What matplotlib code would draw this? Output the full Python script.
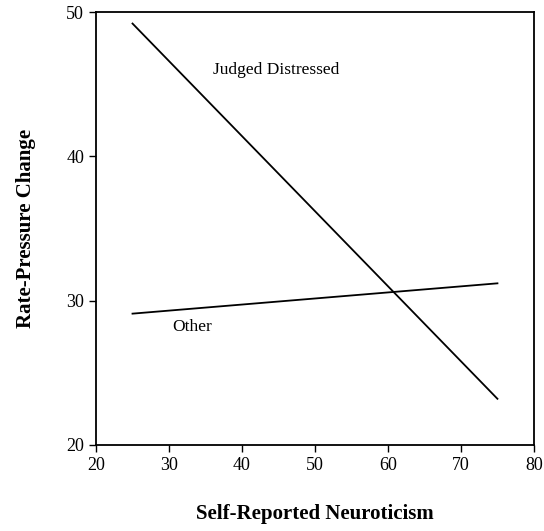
import matplotlib.pyplot as plt
import numpy as np

# regression lines (endpoints at neuroticism 25 and 75)
neuroticism = [25, 75]
judged_distressed = [49.2, 23.2]
other = [29.1, 31.2]

x_ticks = [20, 30, 40, 50, 60, 70, 80]
y_ticks = [20, 30, 40, 50]

plt.rcParams['font.family'] = ['Liberation Serif', 'DejaVu Serif']

fig = plt.figure(figsize=(5.44, 5.31), dpi=100)
ax = fig.add_axes([0.1765, 0.162, 0.805, 0.8154])

ax.plot(neuroticism, judged_distressed, color='black', lw=1.3)
ax.plot(neuroticism, other, color='black', lw=1.3)

ax.text(36, 46, 'Judged Distressed', fontsize=12.5, va='center', ha='left')
ax.text(30.4, 28.2, 'Other', fontsize=12.5, va='center', ha='left')

ax.set_xlim(20, 80)
ax.set_ylim(20, 50)
ax.set_xticks(x_ticks)
ax.set_yticks(y_ticks)
ax.tick_params(labelsize=13, direction='out', length=5, width=1)
for s in ax.spines.values():
    s.set_linewidth(1.3)

ax.set_xlabel('Self-Reported Neuroticism', fontsize=15, fontweight='bold', labelpad=22)
ax.set_ylabel('Rate-Pressure Change', fontsize=15, fontweight='bold', labelpad=22)

fig.savefig('out.png', dpi=100)
